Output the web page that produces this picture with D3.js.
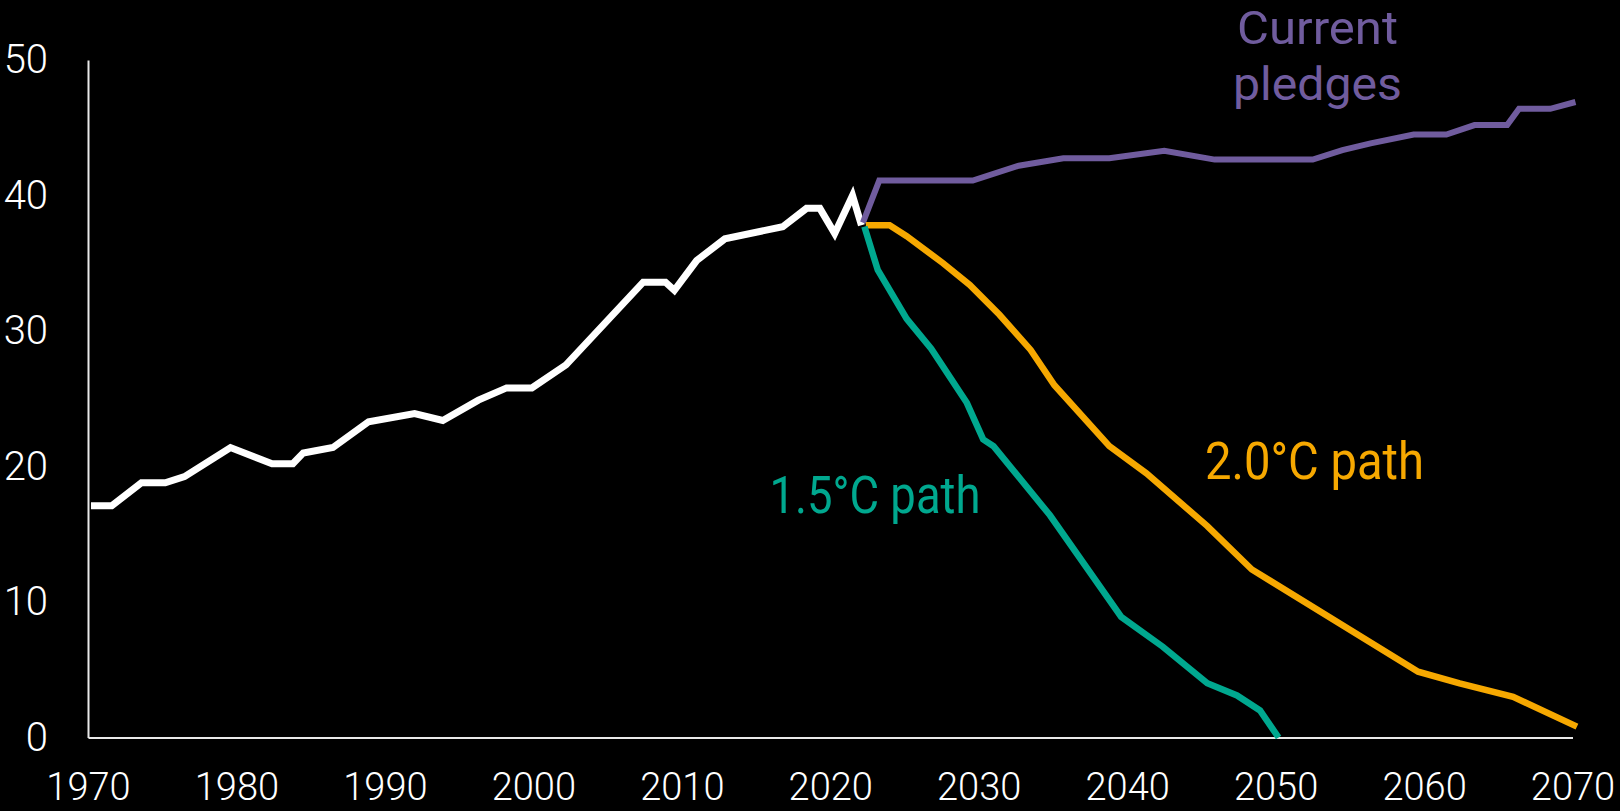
<!DOCTYPE html>
<html>
<head>
<meta charset="utf-8">
<script src="https://cdn.jsdelivr.net/npm/d3@7"></script>
<style>
  html, body { margin: 0; padding: 0; background: #000; }
  svg { display: block; }
</style>
</head>
<body>
<script>
// ---- Data ----
const histYears   = [1970.2, 1971.6, 1973.6, 1975.2, 1976.5, 1979.6, 1982.4, 1983.8, 1984.5, 1986.5, 1988.9, 1992.0, 1993.9, 1996.3, 1998.2, 1999.9, 2002.2, 2007.4, 2008.9, 2009.5, 2011.0, 2012.9, 2016.8, 2018.4, 2019.3, 2020.3, 2021.5, 2022.1];
const histValues  = [17.1, 17.1, 18.8, 18.8, 19.25, 21.4, 20.2, 20.2, 21.0, 21.4, 23.3, 23.9, 23.4, 24.9, 25.8, 25.8, 27.5, 33.6, 33.6, 33.0, 35.2, 36.8, 37.7, 39.05, 39.05, 37.2, 40.0, 37.8];

const pledgeYears  = [2022.2, 2023.3, 2029.6, 2032.7, 2035.7, 2038.8, 2042.5, 2045.9, 2052.5, 2054.5, 2056.4, 2059.3, 2061.5, 2063.4, 2065.6, 2066.4, 2068.5, 2070.2];
const pledgeValues = [38.0, 41.1, 41.1, 42.2, 42.75, 42.75, 43.3, 42.65, 42.65, 43.35, 43.85, 44.5, 44.5, 45.2, 45.2, 46.4, 46.4, 46.9];

const path20Years  = [2022.4, 2024.0, 2025.15, 2027.6, 2029.4, 2031.4, 2033.5, 2035.1, 2038.8, 2041.3, 2045.4, 2048.4, 2059.6, 2062.4, 2066.0, 2070.3];
const path20Values = [37.8, 37.8, 37.0, 35.0, 33.4, 31.2, 28.6, 26.0, 21.5, 19.5, 15.6, 12.4, 4.86, 4.0, 3.0, 0.8];

const path15Years  = [2022.3, 2023.2, 2025.15, 2026.8, 2029.2, 2030.3, 2031.0, 2034.8, 2039.6, 2042.4, 2045.4, 2047.4, 2048.95, 2050.2];
const path15Values = [37.7, 34.5, 30.9, 28.7, 24.7, 22.0, 21.5, 16.4, 8.9, 6.7, 4.0, 3.1, 2.0, 0.0];

const xTickYears  = [1970, 1980, 1990, 2000, 2010, 2020, 2030, 2040, 2050, 2060, 2070];
const yTickValues = [0, 10, 20, 30, 40, 50];

const pledgeLabelLines = ["Current", "pledges"];
const seriesNames = ["Current pledges", "2.0°C path", "1.5°C path"];

// ---- Layout ----
const W = 1620, H = 811;
const svg = d3.select("body").append("svg").attr("width", W).attr("height", H)
  .style("background", "#000");

const x = d3.scaleLinear().domain([1970, 2070]).range([88, 1572.5]);
const y = d3.scaleLinear().domain([0, 50]).range([737.5, 60]);

const FONT = "Roboto, 'Noto Sans', 'DejaVu Sans', sans-serif";

// Axes
const yAxis = svg.append("g").attr("transform", `translate(${x(1970)},0)`)
  .call(d3.axisLeft(y).tickValues(yTickValues).tickSize(0).tickSizeOuter(0).tickPadding(40));
const xAxis = svg.append("g").attr("transform", `translate(0,${y(0)})`)
  .call(d3.axisBottom(x).tickValues(xTickYears).tickFormat(d3.format("d")).tickSize(0).tickSizeOuter(0).tickPadding(36));

[yAxis, xAxis].forEach(g => {
  g.select(".domain").attr("stroke", "#e8e8e8").attr("stroke-width", 2);
  g.selectAll("text").attr("fill", "#ffffff").style("font-family", FONT)
    .style("font-size", "40px").style("font-weight", 300);
});
xAxis.selectAll("text").style("font-size", "38px");

// Lines
const line = d3.line().x(d => x(d[0])).y(d => y(d[1]));
const zip = (a, b) => a.map((v, i) => [v, b[i]]);

function drawLine(data, color, width) {
  svg.append("path").datum(data)
    .attr("d", line)
    .attr("fill", "none")
    .attr("stroke", color)
    .attr("stroke-width", width)
    .attr("stroke-linejoin", "miter")
    .attr("stroke-linecap", "butt");
}

drawLine(zip(histYears, histValues), "#ffffff", 7);
drawLine(zip(pledgeYears, pledgeValues), "#705c9e", 6);
drawLine(zip(path20Years, path20Values), "#f6a800", 6.5);
drawLine(zip(path15Years, path15Values), "#00a88f", 6.5);

// Annotations
function label(text, cx, baseline, color, size, len) {
  const el = svg.append("text")
    .attr("x", cx).attr("y", baseline)
    .attr("text-anchor", "middle")
    .attr("fill", color)
    .style("font-family", FONT)
    .style("font-size", size + "px")
    .style("font-weight", 400)
    .text(text);
  if (len) el.attr("textLength", len).attr("lengthAdjust", "spacingAndGlyphs");
}

label(pledgeLabelLines[0], 1317.5, 44, "#705c9e", 47, 161);
label(pledgeLabelLines[1], 1317.5, 99.5, "#705c9e", 47, 169);
label(seriesNames[1], 1314.5, 479, "#f6a800", 51, 219);
label(seriesNames[2], 875, 512.7, "#00a88f", 51, 211);
</script>
</body>
</html>
